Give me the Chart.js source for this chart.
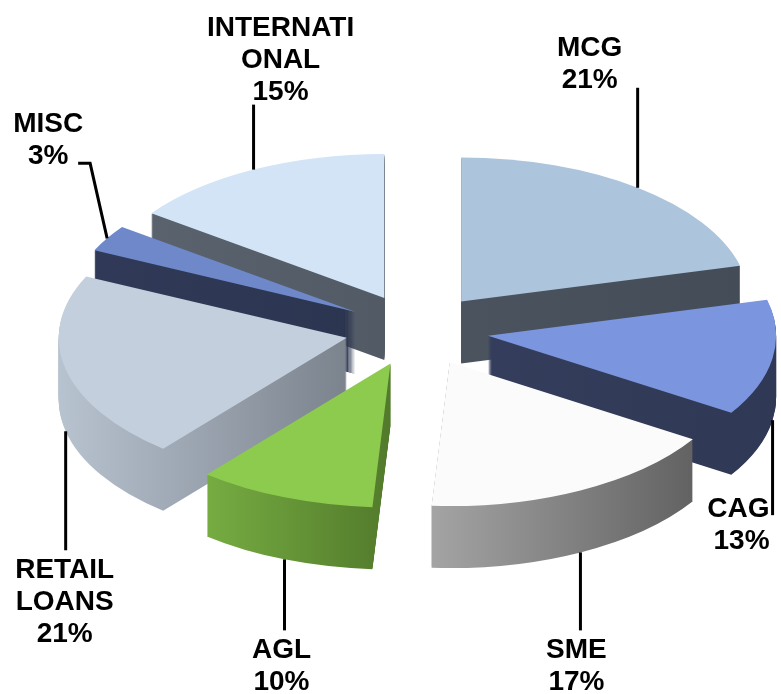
<!DOCTYPE html>
<html>
<head>
<meta charset="utf-8">
<script src="https://cdn.jsdelivr.net/npm/chart.js@4.4.1/dist/chart.umd.min.js"></script>
<style>
  body { margin: 0; background: #fff; }
</style>
</head>
<body>
<canvas id="pieChart" width="781" height="694"></canvas>
<script>
// segments, clockwise from 12 o'clock
const segments = ['MCG', 'CAG', 'SME', 'AGL', 'RETAIL LOANS', 'MISC', 'INTERNATIONAL'];
const shares = [21, 13, 17, 10, 21, 3, 15];
// how each name is broken over lines in the picture
const labelLines = [['MCG'], ['CAG'], ['SME'], ['AGL'], ['RETAIL', 'LOANS'], ['MISC'], ['INTERNATI', 'ONAL']];

const topColors = ['#adc4dd', '#7b96de', '#fbfbfb', '#8ccb4e', '#c3cfdd', '#6e88ca', '#d3e4f7'];
const sideColors = [
  ['#4b535e', '#444c57'], ['#343e5c', '#2f3854'], ['#a4a4a4', '#626262'], ['#76ac42', '#527a2b'],
  ['#b8c3d0', '#7b838d'], ['#303a58', '#2c3550'], ['#5a636d', '#525b65']
];

// fake 3d look
const RADIUS = 288;
const SQUASH = 0.5;   // vertical flattening of the disc
const DEPTH = 62;     // thickness in px
const EXPLODE = 72;   // how far every slice is pulled out

// leader lines: path from the point on the slice, text placed from the path end
const labelLayout = [
  { path: [[0, -100]], tx: -48, ty: 0, above: true, align: 'center' },
  { path: [[0, 95]], tx: -3, ty: 2, above: false, align: 'right' },
  { path: [[0, 78]], tx: -4, ty: 28, above: false, align: 'center' },
  { path: [[0, 71]], tx: -3, ty: 28, above: false, align: 'center' },
  { path: [[0, 119]], tx: -1, ty: 28, above: false, align: 'center' },
  { path: [[-17, -75], [-29, -75]], tx: -30, ty: 1, above: true, align: 'center' },
  { path: [[0, -65]], tx: 27, ty: -5, above: true, align: 'center' }
];

function sliceExtent(arc) {
  let lo = arc.x, hi = arc.x;
  for (let k = 0; k <= 20; k++) {
    const a = arc.startAngle + (arc.endAngle - arc.startAngle) * k / 20;
    const x = arc.x + Math.cos(a) * RADIUS;
    lo = Math.min(lo, x); hi = Math.max(hi, x);
  }
  return [lo, hi];
}

const pie3d = {
  id: 'pie3d',
  beforeDatasetsDraw(chart) {
    const ctx = chart.ctx;
    const meta = chart.getDatasetMeta(0);
    const pivot = (chart.chartArea.top + chart.chartArea.bottom) / 2;
    ctx.save();
    ctx.translate(0, pivot);
    ctx.scale(1, SQUASH);
    ctx.translate(0, -pivot);

    const grads = meta.data.map((arc, i) => {
      const [lo, hi] = sliceExtent(arc);
      const g = ctx.createLinearGradient(lo, 0, hi, 0);
      g.addColorStop(0, sideColors[i][0]);
      g.addColorStop(1, sideColors[i][1]);
      return g;
    });

    function drawSlice(arc, i, shift, fill) {
      const mid = (arc.startAngle + arc.endAngle) / 2;
      ctx.save();
      ctx.translate(Math.cos(mid) * EXPLODE, Math.sin(mid) * EXPLODE + shift);
      const o = arc.options;
      arc.options = Object.assign({}, o, { backgroundColor: fill, borderWidth: 0 });
      arc.draw(ctx);
      arc.options = o;
      ctx.restore();
    }

    // sides first, bottom layer up
    for (let d = DEPTH; d > 0; d--) {
      meta.data.forEach((arc, i) => drawSlice(arc, i, d / SQUASH, grads[i]));
    }
    // then the top faces
    meta.data.forEach((arc, i) => drawSlice(arc, i, 0, topColors[i]));

    ctx.restore();
    return false;
  },
  afterDraw(chart) {
    const ctx = chart.ctx;
    const meta = chart.getDatasetMeta(0);
    const pivot = (chart.chartArea.top + chart.chartArea.bottom) / 2;
    ctx.save();
    ctx.strokeStyle = '#000';
    ctx.lineWidth = 3;
    ctx.fillStyle = '#000';
    ctx.font = 'bold 28px "Liberation Sans", Arial, sans-serif';
    meta.data.forEach((arc, i) => {
      const mid = (arc.startAngle + arc.endAngle) / 2;
      const r = RADIUS + EXPLODE;
      const ax = arc.x + Math.cos(mid) * r;
      let ay = pivot + (arc.y - pivot) * SQUASH + Math.sin(mid) * r * SQUASH;
      if (Math.sin(mid) > 0.1) ay += DEPTH; // front slices: hook onto the lower rim
      const lay = labelLayout[i];
      ctx.beginPath();
      ctx.moveTo(ax, ay);
      let ex = ax, ey = ay;
      lay.path.forEach(p => { ex = ax + p[0]; ey = ay + p[1]; ctx.lineTo(ex, ey); });
      ctx.stroke();

      const lines = labelLines[i].concat([shares[i] + '%']);
      const lh = 32;
      ctx.textAlign = lay.align;
      ctx.textBaseline = 'alphabetic';
      lines.forEach((t, k) => {
        const y = lay.above ? ey + lay.ty - (lines.length - 1 - k) * lh : ey + lay.ty + k * lh;
        ctx.fillText(t, ex + lay.tx, y);
      });
    });
    ctx.restore();
  }
};

new Chart(document.getElementById('pieChart'), {
  type: 'pie',
  data: {
    labels: segments,
    datasets: [{
      data: shares,
      backgroundColor: topColors,
      borderWidth: 0
    }]
  },
  options: {
    responsive: false,
    animation: false,
    events: [],
    radius: RADIUS,
    layout: { padding: { left: 53, right: 0, top: 0, bottom: 34 } },
    plugins: {
      legend: { display: false },
      tooltip: { enabled: false }
    }
  },
  plugins: [pie3d]
});
</script>
</body>
</html>
